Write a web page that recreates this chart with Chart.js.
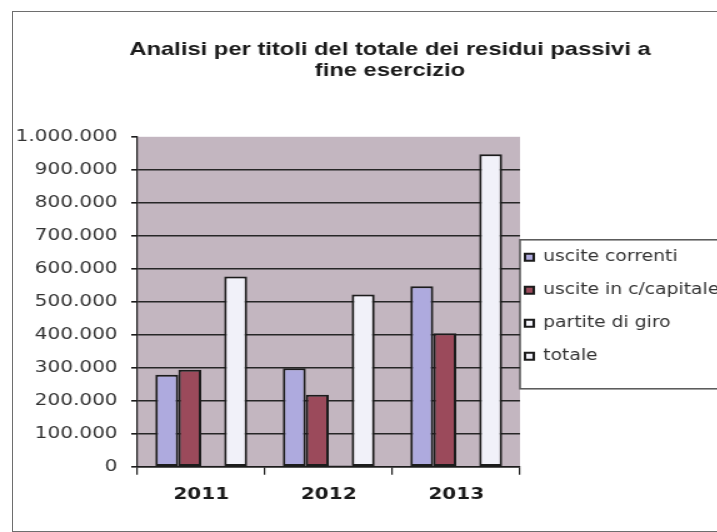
<!DOCTYPE html>
<html lang="it">
<head>
<meta charset="utf-8">
<title>Residui passivi</title>
<script src="https://cdn.jsdelivr.net/npm/chart.js@4.4.1/dist/chart.umd.min.js"></script>
<style>
  html, body { margin: 0; padding: 0; background: #fff; overflow: hidden; }
  #wrap { position: relative; width: 717px; height: 532px; overflow: hidden; }
  /* the scanned original is stretched sideways, so the canvas is too */
  #myChart { position: absolute; left: 0; top: 0; transform: scaleX(1.25); transform-origin: 0 0; }
  #cornice { position: absolute; left: 12px; top: 11px; width: 800px; height: 519px; border: 1px solid #6e6e6e; }
</style>
</head>
<body>
<div id="wrap">
  <canvas id="myChart" width="624" height="532"></canvas>
  <div id="cornice"></div>
</div>
<script>
const anni = ['2011', '2012', '2013'];
const usciteCorrenti = [279000, 299000, 547000];
const usciteCapitale = [294000, 218000, 405000];
const partiteGiro = [3000, 4000, 2000];
const totale = [577000, 522000, 947000];
const yMax = 1000000;
const yStep = 100000;

function migliaia(v) {
    return String(v).replace(/\B(?=(\d{3})+(?!\d))/g, '.');
}

const sfondo = {
    id: 'sfondo',
    beforeLayout(chart) {
        // legend column must start where the plot ends (x = 416 on the canvas)
        if (!chart.legend._patched) {
            const fit = chart.legend.fit.bind(chart.legend);
            chart.legend.fit = function () {
                fit();
                this.width = chart.width - 416;
            };
            chart.legend._patched = true;
        }
    },
    afterLayout(chart) {
        // nudge the legend items left and down, like the original
        const lg = chart.legend;
        lg.left = chart.chartArea.right - 14;
        lg.top += 5;
        lg.bottom += 5;
    },
    beforeDraw(chart) {
        const ctx = chart.ctx;
        const a = chart.chartArea;
        ctx.save();
        ctx.fillStyle = '#ffffff';
        ctx.fillRect(0, 0, chart.width, chart.height);
        ctx.fillStyle = '#c3b6c0';
        ctx.fillRect(a.left, a.top, a.right - a.left, a.bottom - a.top);
        const hb = chart.legend.legendHitBoxes;
        if (hb && hb.length) {
            const last = hb[hb.length - 1];
            const top = hb[0].top - 10;
            const bottom = last.top + last.height + 25;
            ctx.fillStyle = '#ffffff';
            ctx.fillRect(a.right, top, chart.width, bottom - top);
            ctx.strokeStyle = '#555555';
            ctx.lineWidth = 1.5;
            ctx.strokeRect(a.right, top, chart.width + 10, bottom - top);
        }
        ctx.restore();
    }
};

const ctx = document.getElementById('myChart');

const myBarChart = new Chart(ctx, {
    type: 'bar',
    data: {
        labels: anni,
        datasets: [
            { label: 'uscite correnti', data: usciteCorrenti, backgroundColor: '#aeaade' },
            { label: 'uscite in c/capitale', data: usciteCapitale, backgroundColor: '#9b4a5b' },
            { label: 'partite di giro', data: partiteGiro, backgroundColor: '#f6f6fc' },
            { label: 'totale', data: totale, backgroundColor: '#f1f1f9' }
        ]
    },
    options: {
        responsive: false,
        animation: false,
        datasets: {
            bar: {
                borderColor: '#1c1c1c',
                borderWidth: 2,
                borderSkipped: false,
                categoryPercentage: 0.72,
                barPercentage: 1.0
            }
        },
        layout: { padding: { left: 0, right: 0, top: 0, bottom: 18 } },
        plugins: {
            title: {
                display: true,
                text: ['Analisi per titoli del totale dei residui passivi a', 'fine esercizio'],
                color: '#1a1a1a',
                font: { family: '"Liberation Sans", Arial, sans-serif', size: 19, weight: 'bold', lineHeight: 1.1 },
                padding: { top: 39, bottom: 56 }
            },
            legend: {
                position: 'right',
                align: 'center',
                fullSize: false,
                labels: {
                    color: '#333333',
                    font: { family: '"DejaVu Sans", Verdana, sans-serif', size: 15 },
                    boxWidth: 7,
                    boxHeight: 7,
                    padding: 18
                }
            },
            tooltip: { enabled: false }
        },
        scales: {
            x: {
                offset: true,
                border: { color: '#1c1c1c', width: 1.5 },
                grid: { drawOnChartArea: false, tickLength: 8, color: '#1c1c1c', lineWidth: 1.2 },
                ticks: {
                    color: '#1a1a1a',
                    padding: 10,
                    font: { family: '"DejaVu Sans", Verdana, sans-serif', size: 16, weight: 'bold' }
                }
            },
            y: {
                min: 0,
                max: yMax,
                afterFit: function (scale) { scale.width = 110; },
                border: { color: '#1c1c1c', width: 1.2 },
                grid: {
                    tickLength: 5,
                    lineWidth: 1.6,
                    tickColor: '#1c1c1c',
                    color: function (c) { return c.tick && c.tick.value === yMax ? 'rgba(0,0,0,0)' : '#262626'; }
                },
                ticks: {
                    stepSize: yStep,
                    color: '#333333',
                    padding: 11,
                    font: { family: '"DejaVu Sans", Verdana, sans-serif', size: 16 },
                    callback: function (value) { return migliaia(value); }
                }
            }
        }
    },
    plugins: [sfondo]
});
</script>
</body>
</html>
